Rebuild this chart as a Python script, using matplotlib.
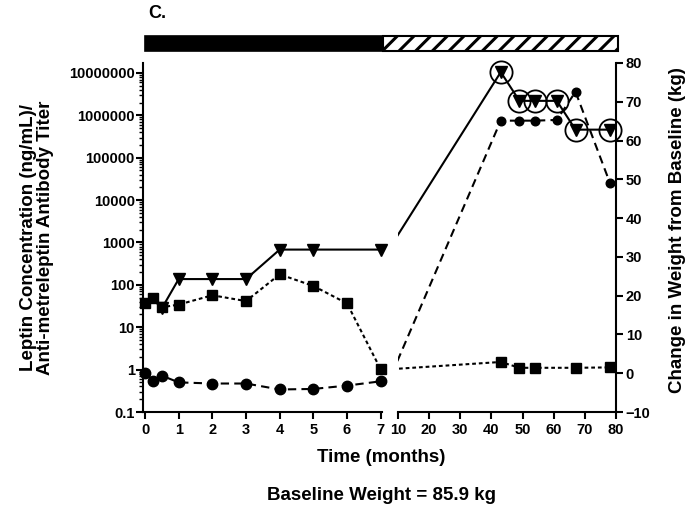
import matplotlib
matplotlib.use('Agg')
import matplotlib.pyplot as plt
from matplotlib.patches import Rectangle
from matplotlib.ticker import FixedLocator, FixedFormatter, LogLocator, NullFormatter

plt.rcParams['font.family'] = ['Liberation Sans', 'DejaVu Sans']
plt.rcParams['font.weight'] = 'bold'
plt.rcParams['hatch.linewidth'] = 2.2

# ---------------- data ----------------
# Anti-metreleptin antibody titer (triangles, solid line, left log axis)
months_tri = [0.5, 1, 2, 3, 4, 5, 7, 43, 49, 54, 61, 67, 78]
titer = [28, 137, 137, 137, 680, 680, 680, 1.05e7, 2.2e6, 2.2e6, 2.2e6, 4.6e5, 4.6e5]
# Leptin concentration (circles, dashed line, left log axis)
months_circ = [0, 0.25, 0.5, 1, 2, 3, 4, 5, 6, 7, 43, 49, 54, 61, 67, 78]
leptin = [0.83, 0.55, 0.72, 0.50, 0.47, 0.47, 0.34, 0.35, 0.42, 0.53,
          7.5e5, 7.5e5, 7.5e5, 7.8e5, 3.6e6, 2.6e4]
# Change in weight from baseline (squares, dotted line, right axis, kg)
months_sq = [0, 0.25, 0.5, 1, 2, 3, 4, 5, 6, 7, 43, 49, 54, 67, 78]
weight = [18.0, 19.3, 17.0, 17.7, 20.1, 18.6, 25.5, 22.5, 18.0, 1.0,
          2.9, 1.4, 1.4, 1.4, 1.5]

left_xticks = [0, 1, 2, 3, 4, 5, 6, 7]
right_xticks = [10, 20, 30, 40, 50, 60, 70, 80]
log_ticks = [0.1, 1, 10, 100, 1000, 10000, 100000, 1000000, 10000000]
log_labels = ['0.1', '1', '10', '100', '1000', '10000', '100000', '1000000', '10000000']
weight_ticks = [-10, 0, 10, 20, 30, 40, 50, 60, 70, 80]

# ---------------- layout ----------------
W, H = 695, 516
fig = plt.figure(figsize=(W / 100, H / 100), dpi=100)


def frac(x0, y0, x1, y1):
    return [x0 / W, 1 - y1 / H, (x1 - x0) / W, (y1 - y0) / H]


TOP, BOT = 63, 412
axL = fig.add_axes(frac(143, TOP, 381.7, BOT))
axR = fig.add_axes(frac(398, TOP, 616, BOT))
axL2 = axL.twinx()
axR2 = axR.twinx()

LW = 1.5
TICKFS = 10.5
LABFS = 13.5
LOG_YLIM = (0.1, 1.72e7)
W_YLIM = (-10, 80)

for ax in (axL, axR):
    ax.set_yscale('log')
    ax.set_ylim(*LOG_YLIM)
    ax.set_facecolor('none')
for ax in (axL2, axR2):
    ax.set_ylim(*W_YLIM)

axL.set_xlim(-0.06, 7.03)
axR.set_xlim(10, 80)

# spines
for ax in (axL, axR, axL2, axR2):
    for s in ax.spines.values():
        s.set_visible(False)
        s.set_linewidth(LW)
axL.spines['left'].set_visible(True)
axL.spines['bottom'].set_visible(True)
axR.spines['bottom'].set_visible(True)
axR2.spines['right'].set_visible(True)

# ticks
axL.yaxis.set_major_locator(FixedLocator(log_ticks))
axL.yaxis.set_major_formatter(FixedFormatter(log_labels))
axL.yaxis.set_minor_locator(LogLocator(base=10, subs=range(2, 10)))
axL.yaxis.set_minor_formatter(NullFormatter())
axL.tick_params(axis='y', which='major', length=5, width=LW, labelsize=TICKFS, pad=1)
axL.tick_params(axis='y', which='minor', length=3, width=1.0)
axL.set_xticks(left_xticks)
axL.tick_params(axis='x', length=5, width=LW, labelsize=TICKFS, pad=3)

axR.set_yticks([])
axR.yaxis.set_minor_locator(FixedLocator([]))
axR.tick_params(axis='y', which='both', left=False, labelleft=False)
axR.set_xticks(right_xticks)
axR.tick_params(axis='x', length=5, width=LW, labelsize=TICKFS, pad=3)

axL2.set_yticks([])
axL2.tick_params(axis='y', which='both', right=False, labelright=False)
axR2.set_yticks(weight_ticks)
axR2.tick_params(axis='y', length=5, width=LW, labelsize=TICKFS, pad=2)

for ax in (axL, axR):
    for lab in ax.get_xticklabels() + ax.get_yticklabels():
        lab.set_fontweight('bold')
for lab in axR2.get_yticklabels():
    lab.set_fontweight('bold')


# ---------------- data drawing ----------------
def pts(xs, ys, lo, hi):
    sel = [(x, y) for x, y in zip(xs, ys) if lo <= x <= hi]
    return [p[0] for p in sel], [p[1] for p in sel]


for ax, ax2, lo, hi, csize in ((axL, axL2, 0, 7, 7.5), (axR, axR2, 10, 80, 6.2)):
    ax.plot(months_tri, titer, color='k', lw=LW, solid_capstyle='butt')
    ax.plot(months_circ, leptin, color='k', lw=LW, dashes=(4, 2.5))
    ax2.plot(months_sq, weight, color='k', lw=LW, dashes=(1.8, 1.4))

    x, y = pts(months_tri, titer, lo, hi)
    ax.plot(x, y, linestyle='none', marker='v', ms=8.5, color='k', clip_on=False)
    if lo >= 10:
        ax.plot(x, y, linestyle='none', marker='o', ms=16, mfc='none', mec='k',
                mew=1.3, clip_on=False)
    x, y = pts(months_circ, leptin, lo, hi)
    ax.plot(x, y, linestyle='none', marker='o', ms=csize, color='k', clip_on=False)
    x, y = pts(months_sq, weight, lo, hi)
    ax2.plot(x, y, linestyle='none', marker='s', ms=7.5, color='k', clip_on=False)

# ---------------- treatment bar ----------------
axB = fig.add_axes(frac(145, 36, 618, 50.7))
axB.set_xlim(0, 1)
axB.set_ylim(0, 1)
axB.axis('off')
split = (382.7 - 145) / (618 - 145)
axB.add_patch(Rectangle((0, 0), split, 1, facecolor='k', edgecolor='k', lw=1.2, clip_on=False))
axB.add_patch(Rectangle((split, 0), 1 - split, 1, facecolor='white', edgecolor='k',
                        hatch='//', lw=1.5, clip_on=False))

# ---------------- text ----------------
fig.text(148 / W, 1 - 14 / H, 'C.', fontsize=13, fontweight='bold', ha='left', va='center')
fig.text(37 / W, 1 - 238 / H, 'Leptin Concentration (ng/mL)/\nAnti-metreleptin Antibody Titer',
         rotation=90, fontsize=LABFS, fontweight='bold', ha='center', va='center',
         multialignment='center', linespacing=1.0)
fig.text(678 / W, 1 - 230 / H, 'Change in Weight from Baseline (kg)', rotation=90,
         fontsize=LABFS, fontweight='bold', ha='center', va='center')
fig.text(381 / W, 1 - 457 / H, 'Time (months)', fontsize=LABFS, fontweight='bold',
         ha='center', va='center')
fig.text(382 / W, 1 - 495 / H, 'Baseline Weight = 85.9 kg', fontsize=LABFS, fontweight='bold',
         ha='center', va='center')

fig.savefig('out.png', dpi=100)
